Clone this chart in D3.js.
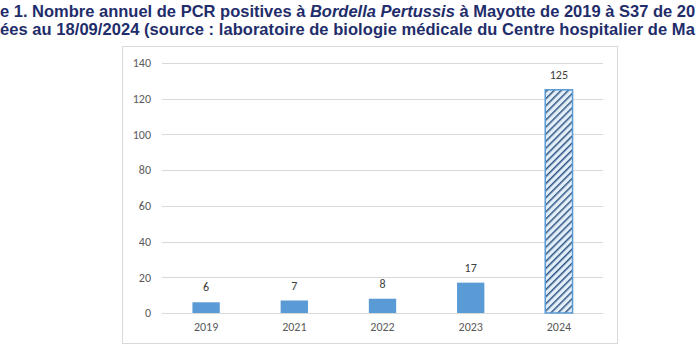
<!DOCTYPE html>
<html><head><meta charset="utf-8">
<script src="https://cdn.jsdelivr.net/npm/d3@7"></script>
<style>
html,body{margin:0;padding:0;background:#fff;overflow:hidden}
svg{display:block}
</style></head>
<body>
<svg id="chart" width="696" height="356"></svg>
<script>
const categories = ["2019","2021","2022","2023","2024"];
const values = [6, 7, 8, 17, 125];
const hatched = [false, false, false, false, true];
const yTicks = [0, 20, 40, 60, 80, 100, 120, 140];
const titleLine1a = "e 1. Nombre annuel de PCR positives à ";
const titleLine1b = "Bordella Pertussis";
const titleLine1c = " à Mayotte de 2019 à S37 de 20";
const titleLine2 = "ées au 18/09/2024 (source : laboratoire de biologie médicale du Centre hospitalier de Ma";

const svg = d3.select("#chart");
const defs = svg.append("defs");
const pat = defs.append("pattern").attr("id","hatch").attr("patternUnits","userSpaceOnUse")
  .attr("width",5).attr("height",5).attr("patternTransform","rotate(45)");
pat.append("rect").attr("width",5).attr("height",5).attr("fill","#e3eef9");
pat.append("rect").attr("width",1.5).attr("height",5).attr("fill","#2b5583");

// Title
const t1 = svg.append("text").attr("x",0).attr("y",17)
  .attr("font-family","Liberation Sans, Arial, sans-serif").attr("font-weight","bold")
  .attr("font-size",16.5).attr("fill","#1f2d6b");
t1.append("tspan").text(titleLine1a);
t1.append("tspan").attr("font-style","italic").text(titleLine1b);
t1.append("tspan").text(titleLine1c);
svg.append("text").attr("x",0).attr("y",35)
  .attr("font-family","Liberation Sans, Arial, sans-serif").attr("font-weight","bold")
  .attr("font-size",16.5).attr("letter-spacing",0.05).attr("fill","#1f2d6b").text(titleLine2);

// Frame
svg.append("rect").attr("x",122.5).attr("y",46.5).attr("width",495).attr("height",297)
  .attr("fill","#fff").attr("stroke","#d9d9d9").attr("stroke-width",1);

const x = d3.scaleBand().domain(categories).range([162, 603]).paddingInner(0.69).paddingOuter(0.345);
const y = d3.scaleLinear().domain([0, 140]).range([313, 63]);

const font = "Carlito, Calibri, 'Open Sans', sans-serif";

// gridlines
svg.append("g").selectAll("line").data(yTicks).join("line")
  .attr("x1",162).attr("x2",603)
  .attr("y1",d=>Math.round(y(d))+0.5).attr("y2",d=>Math.round(y(d))+0.5)
  .attr("stroke","#d9d9d9").attr("stroke-width",1);

// y axis labels
const yAxis = d3.axisLeft(y).tickValues(yTicks).tickSize(0).tickPadding(0);
const gy = svg.append("g").attr("transform","translate(151,0)").call(yAxis);
gy.select(".domain").remove();
gy.selectAll("text").attr("font-family",font).attr("font-size",12).attr("fill","#595959");

// x axis labels
const xAxis = d3.axisBottom(x).tickSize(0).tickPadding(0);
const gx = svg.append("g").attr("transform","translate(0,322)").call(xAxis);
gx.select(".domain").remove();
gx.selectAll("text").attr("font-family",font).attr("font-size",12).attr("fill","#595959");

// bars
const data = categories.map((c,i)=>({c, v: values[i], h: hatched[i]}));
svg.append("g").selectAll("rect").data(data).join("rect")
  .attr("x",d=>x(d.c)).attr("width",x.bandwidth())
  .attr("y",d=>y(d.v)).attr("height",d=>y(0)-y(d.v))
  .attr("fill",d=>d.h ? "url(#hatch)" : "#5b9bd5")
  .attr("stroke",d=>d.h ? "#5b9bd5" : "none").attr("stroke-width",1.5);

// value labels
svg.append("g").selectAll("text").data(data).join("text")
  .attr("x",d=>x(d.c)+x.bandwidth()/2).attr("y",d=>y(d.v)-11)
  .attr("text-anchor","middle").attr("font-family",font).attr("font-size",12)
  .attr("fill","#404040").text(d=>d.v);
</script>
</body></html>
